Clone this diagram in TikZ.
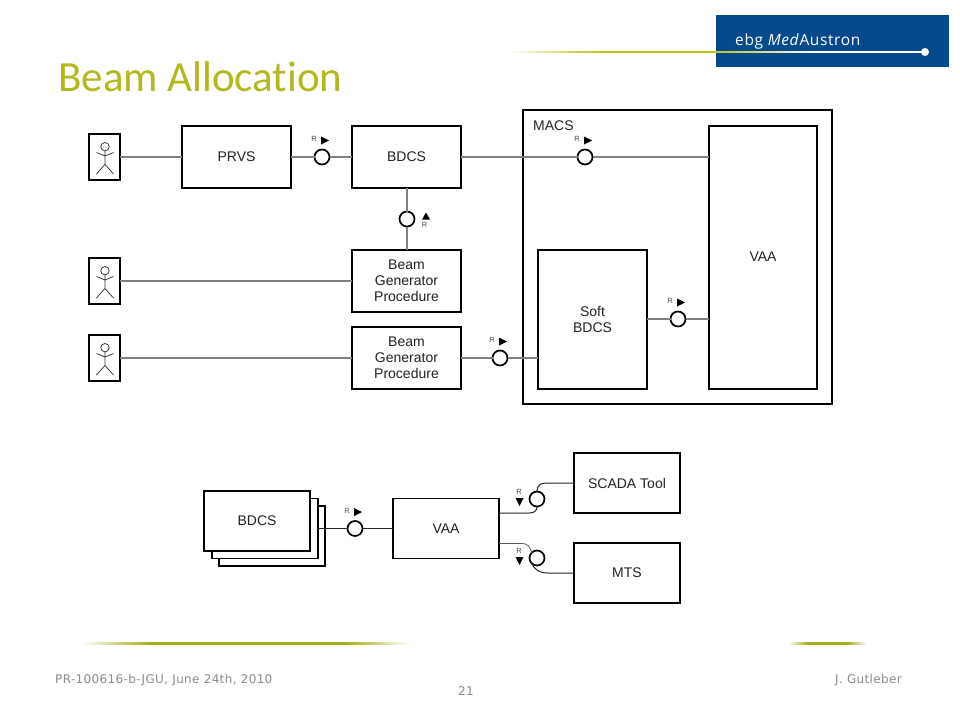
\documentclass[tikz,border=0pt]{standalone}
\usepackage{fontspec}
\setmainfont{Liberation Sans}
\newfontfamily\titlefont[Ligatures=NoCommon]{Carlito}
\newfontfamily\footfont[LetterSpace=3]{DejaVu Sans}
\newfontfamily\logofont[LetterSpace=4]{Open Sans}
\definecolor{titleolive}{HTML}{B3B81E}
\definecolor{lineolive}{HTML}{BCC41C}
\definecolor{footolive}{HTML}{A4AC14}
\definecolor{logoblue}{HTML}{044A8C}
\definecolor{wiregray}{HTML}{808080}
\definecolor{footgray}{HTML}{8C8C8C}
\definecolor{boxtext}{HTML}{222222}
\pgfdeclarehorizontalshading{logoline}{100bp}{color(0bp)=(white); color(25bp)=(white); color(36bp)=(lineolive); color(50bp)=(lineolive); color(62bp)=(white); color(75bp)=(white); color(100bp)=(white)}
\pgfdeclarehorizontalshading{footlong}{100bp}{color(0bp)=(white); color(25bp)=(white); color(36bp)=(footolive); color(65bp)=(footolive); color(75bp)=(white); color(100bp)=(white)}
\pgfdeclarehorizontalshading{footshort}{100bp}{color(0bp)=(white); color(25bp)=(white); color(38bp)=(footolive); color(62bp)=(footolive); color(75bp)=(white); color(100bp)=(white)}
\tikzset{
  x=1pt,y=-1pt,
  blockbox/.style={draw=black,line width=1.7pt,fill=white,inner sep=0pt,outer sep=0pt,
    align=center,font=\fontsize{14}{16}\selectfont,text=boxtext},
  actorbox/.style={draw=black,line width=1.7pt,fill=white,inner sep=0pt,outer sep=0pt,
    minimum width=31pt,minimum height=46pt},
  port/.style={circle,draw=black,line width=1.7pt,fill=white,inner sep=0pt,outer sep=0pt,minimum size=15pt},
  wire/.style={draw=wiregray,line width=1.3pt},
  darkwire/.style={draw=black!85,line width=1pt},
  lightwire/.style={draw=black!65,line width=0.8pt},
  rlabel/.style={font=\fontsize{7.5}{8}\selectfont,text=black!70,inner sep=0pt},
  stick/.style={draw=black!80,line width=0.75pt},
  foot/.style={inner sep=0pt,text=footgray,font=\footfont\fontsize{12}{13}\selectfont},
  actorfig/.pic={
    \draw[stick] (0.5,-10.3) circle (4.2);
    \draw[stick] (0.5,-6.1) -- (0.5,7.5) (-8,-4.5) -- (0.5,-1) -- (9,-4.5)
      (-8,17) -- (0.5,7.5) -- (9,17);
  },
  rright/.pic={
    \node[rlabel] at (-8,-18) {R};
    \fill[black] (-1,-20.5) -- (7,-16.5) -- (-1,-12.5) -- cycle;
  },
  rup/.pic={
    \node[rlabel] at (17.5,5.5) {R};
    \fill[black] (15,0.5) -- (19,-6.5) -- (23,0.5) -- cycle;
  },
  rdown/.pic={
    \node[rlabel] at (-18,-7) {R};
    \fill[black] (-21.5,-1) -- (-13.5,-1) -- (-17.5,7) -- cycle;
  },
}
\begin{document}
\begin{tikzpicture}
\useasboundingbox (0,0) rectangle (960,720);
\fill[white] (0,0) rectangle (960,720);

% header
\fill[logoblue] (716,15) rectangle (949,67);
\shade[shading=logoline] (508,51) rectangle (925,52.8);
\fill[white] (925,52) circle (4);
\node[anchor=base west,inner sep=0pt,text=white,font=\logofont\fontsize{15.5}{16}\selectfont] (logo) at (735,45.5)
  {ebg \textit{Med}Austron};
\node[anchor=base west,inner sep=0pt,text=titleolive,font=\titlefont\fontsize{43}{44}\selectfont] (title) at (58,91) {Beam Allocation};

% upper diagram: containers
\node[blockbox,minimum width=309pt,minimum height=294pt] (macs) at (677.5,257) {};
\node[anchor=base west,inner sep=0pt,font=\fontsize{14}{16}\selectfont,text=boxtext] (macslabel) at (533,130) {MACS};
\node[blockbox,minimum width=108pt,minimum height=263pt] (vaa) at (763,257.5) {\raisebox{1pt}{VAA}};
\node[blockbox,minimum width=109pt,minimum height=139pt] (soft) at (592.5,319.5) {Soft\\BDCS};

\node[blockbox,minimum width=109pt,minimum height=62pt] (prvs) at (236.5,157) {PRVS};
\node[blockbox,minimum width=109pt,minimum height=62pt] (bdcs) at (406.5,157) {BDCS};
\node[blockbox,minimum width=109pt,minimum height=62pt] (bgpa) at (406.5,281) {Beam\\Generator\\Procedure};
\node[blockbox,minimum width=109pt,minimum height=62pt] (bgpb) at (406.5,358) {Beam\\Generator\\Procedure};

\node[actorbox] (acta) at (104.5,157) {};
\node[actorbox] (actb) at (104.5,281) {};
\node[actorbox] (actc) at (104.5,358) {};
\pic at (acta.center) {actorfig};
\pic at (actb.center) {actorfig};
\pic at (actc.center) {actorfig};

\node[port] (pa) at (322,157) {};
\node[port] (pb) at (585,157) {};
\node[port] (pc) at (407,219) {};
\node[port] (pd) at (678,319) {};
\node[port] (pe) at (500,358) {};
\pic at (pa.center) {rright};
\pic at (pb.center) {rright};
\pic at (pc.center) {rup};
\pic at (pd.center) {rright};
\pic at (pe.center) {rright};

\draw[wire] (acta) -- (prvs);
\draw[wire] (prvs) -- (pa);
\draw[wire] (pa) -- (bdcs);
\draw[wire] (bdcs) -- (pb);
\draw[wire] (pb) -- (pb -| vaa.west);
\draw[wire] (pc |- bdcs.south) -- (pc);
\draw[wire] (pc) -- (pc |- bgpa.north);
\draw[wire] (actb) -- (bgpa);
\draw[wire] (actc) -- (bgpb);
\draw[wire] (bgpb) -- (pe);
\draw[wire] (pe) -- (pe -| soft.west);
\draw[wire] (pd -| soft.east) -- (pd);
\draw[wire] (pd) -- (pd -| vaa.west);

% lower diagram
\node[blockbox,minimum width=106pt,minimum height=60pt] (stackc) at (272,536) {};
\node[blockbox,minimum width=106pt,minimum height=60pt] (stackb) at (265,528.5) {};
\node[blockbox,minimum width=106pt,minimum height=60pt] (stacka) at (257,521) {BDCS};
\node[blockbox,minimum width=106pt,minimum height=60pt] (vaab) at (446,528.5) {VAA};
\node[blockbox,minimum width=106pt,minimum height=60pt] (scada) at (627,483) {SCADA Tool};
\node[blockbox,minimum width=106pt,minimum height=60pt] (mts) at (627,573) {MTS};

\node[port] (pf) at (355,528.5) {};
\node[port] (pg) at (537,499) {};
\node[port] (ph) at (537,558) {};
\pic at (pf.center) {rright};
\pic at (pg.center) {rdown};
\pic at (ph.center) {rdown};

\draw[darkwire] (stackb.east) -- (pf);
\draw[darkwire] (pf) -- (vaab);
\draw[darkwire] (vaab.east |- 0,513) -- (529,513) .. controls (534,513) and (537,511) .. (pg.south);
\draw[darkwire] (pg.north) .. controls (537,486) and (540,483) .. (546,483) -- (scada.west);
\draw[lightwire] (vaab.east |- 0,543.5) -- (522,543.5) .. controls (527,543.5) and (530,546) .. (ph.north west);
\draw[darkwire] (ph.south west) .. controls (534,569) and (539,573) .. (548,573) -- (mts.west);

% footer
\shade[shading=footlong] (80,642) rectangle (410,644.4);
\shade[shading=footshort] (788,642) rectangle (867,644.4);
\node[foot,anchor=base west] (footl) at (55,683) {PR-100616-b-JGU, June 24th, 2010};
\node[foot,anchor=base east] (footr) at (902,683) {J. Gutleber};
\node[foot,anchor=base] (footn) at (466,695) {21};
\end{tikzpicture}
\end{document}
